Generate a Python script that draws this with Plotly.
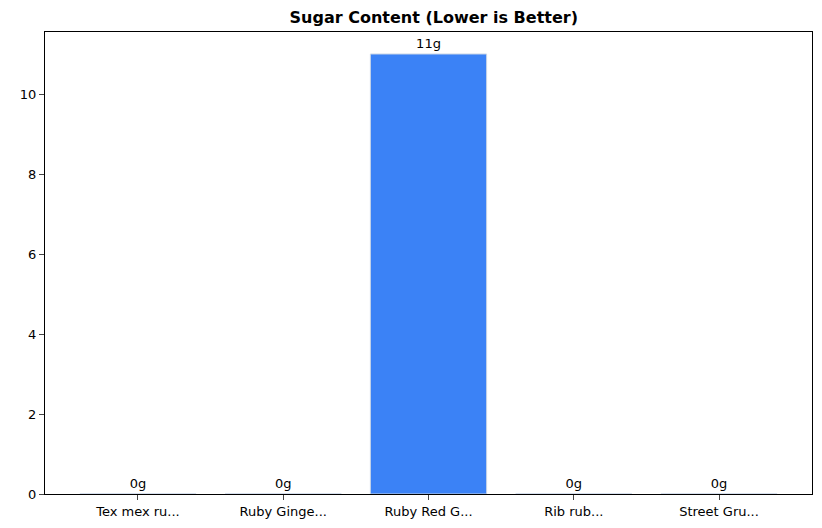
import plotly.graph_objects as go

# sugar per product
products = ['Tex mex ru...', 'Ruby Ginge...', 'Ruby Red G...', 'Rib rub...', 'Street Gru...']
sugar = [0, 0, 11, 0, 0]
labels = ['%dg' % v for v in sugar]

fig = go.Figure()
fig.add_trace(go.Bar(
    x=list(range(len(products))), y=sugar, width=0.8,
    marker=dict(color='#3b82f6', line=dict(color='#c8d4e6', width=1)),
    text=labels, textposition='outside', cliponaxis=False,
    textfont=dict(size=13, color='black'),
))

fig.update_layout(
    width=822, height=528,
    margin=dict(l=30, r=18, t=24, b=42),
    paper_bgcolor='white', plot_bgcolor='white',
    font=dict(family='DejaVu Sans', size=13, color='black'),
    title=dict(text='<b>Sugar Content (Lower is Better)</b>', x=0.518, xanchor='center',
               y=0.982, yanchor='middle', font=dict(size=16)),
    showlegend=False,
)
fig.update_xaxes(range=[-0.64, 4.64], tickvals=list(range(len(products))), ticktext=products,
                 ticks='outside', ticklen=5, showline=True, linecolor='black', mirror=True,
                 showgrid=False, zeroline=False)
fig.update_yaxes(range=[0, 11.55], tickvals=[0, 2, 4, 6, 8, 10],
                 ticks='outside', ticklen=5, showline=True, linecolor='black', mirror=True,
                 showgrid=False, zeroline=False)

fig.write_html("out.html")
